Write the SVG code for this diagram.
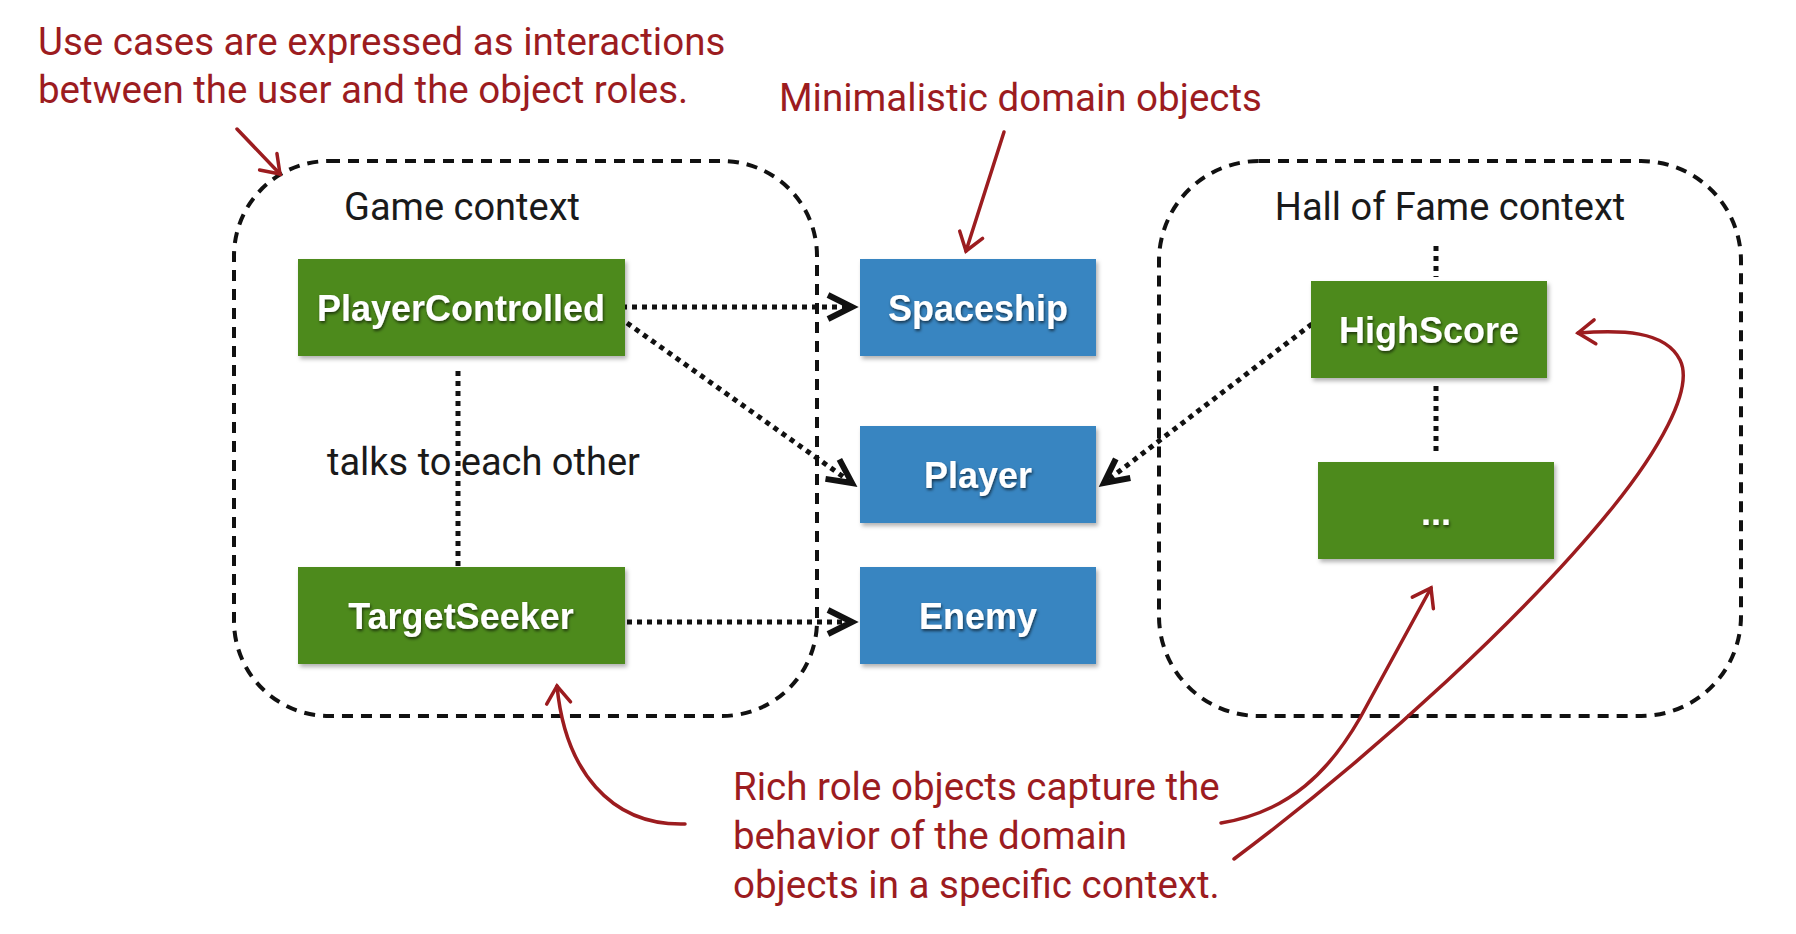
<svg xmlns="http://www.w3.org/2000/svg" width="1796" height="934" viewBox="0 0 1796 934">
<defs>
<style>
.note{font-family:Roboto,"Liberation Sans",sans-serif;font-size:38.5px;fill:#9c1c1f}
.ctx{font-family:Roboto,"Liberation Sans",sans-serif;font-size:38px;fill:#1a1a1a}
.lbl{font-family:"Liberation Sans",Arial,sans-serif;font-weight:bold;font-size:36px;fill:#ffffff;text-anchor:middle}
.green{fill:#4e8a1f}
.blue{fill:#3985c1}
.box{stroke:none}
.frame{fill:none;stroke:#111;stroke-width:4;stroke-dasharray:11 8}
.dot{fill:none;stroke:#111;stroke-width:5;stroke-dasharray:5 5}
.red{fill:none;stroke:#9c1c1f;stroke-width:3.5;stroke-linecap:round}
</style>
<filter id="sh" x="-10%" y="-10%" width="130%" height="140%">
<feDropShadow dx="2" dy="3" stdDeviation="2" flood-color="#000" flood-opacity="0.3"/>
</filter>
<filter id="tsh" x="-10%" y="-30%" width="120%" height="170%">
<feDropShadow dx="1" dy="2" stdDeviation="1.5" flood-color="#000" flood-opacity="0.6"/>
</filter>
<marker id="ah" markerUnits="userSpaceOnUse" viewBox="-32 -18 42 36" refX="0" refY="0" markerWidth="42" markerHeight="36" orient="auto">
<path d="M-24,-12 L0,0 L-24,12" fill="none" stroke="#111" stroke-width="6"/>
</marker>
<marker id="rh" markerUnits="userSpaceOnUse" viewBox="-24 -16 30 32" refX="0" refY="0" markerWidth="30" markerHeight="32" orient="auto">
<path d="M-17,-12 L0,0 L-17,12" fill="none" stroke="#9c1c1f" stroke-width="3.5" stroke-linecap="round"/>
</marker>
</defs>
<rect width="1796" height="934" fill="#ffffff"/>

<g id="annotations">
<text class="note" x="38" y="55">Use cases are expressed as interactions</text>
<text class="note" x="38" y="103">between the user and the object roles.</text>
<text class="note" x="779" y="111">Minimalistic domain objects</text>
<text class="note" x="733" y="800">Rich role objects capture the</text>
<text class="note" x="733" y="849">behavior of the domain</text>
<text class="note" x="733" y="898">objects in a specific context.</text>
</g>

<g id="game-context">
<rect class="frame" x="234" y="161" width="583" height="555" rx="95" ry="95"/>
<text class="ctx" x="462" y="220" text-anchor="middle">Game context</text>
</g>

<g id="hall-of-fame-context">
<rect class="frame" x="1159" y="161" width="582" height="555" rx="100" ry="100"/>
<text class="ctx" x="1450" y="220" text-anchor="middle">Hall of Fame context</text>
</g>

<g id="connectors">
<line class="dot" x1="458" y1="371" x2="458" y2="572"/>
<line class="dot" x1="1436" y1="246" x2="1436" y2="277"/>
<line class="dot" x1="1436" y1="386" x2="1436" y2="453"/>
<line class="dot" x1="622" y1="307" x2="852" y2="307" marker-end="url(#ah)"/>
<line class="dot" x1="627" y1="323" x2="852" y2="483" marker-end="url(#ah)"/>
<line class="dot" x1="627" y1="622" x2="852" y2="622" marker-end="url(#ah)"/>
<line class="dot" x1="1312" y1="324" x2="1104" y2="483" marker-end="url(#ah)"/>
<path class="red" d="M237,129 L280,174" marker-end="url(#rh)"/>
<path class="red" d="M1004,132 L966,251" marker-end="url(#rh)"/>
<path class="red" d="M685,824 C610,826 565,770 557,686" marker-end="url(#rh)"/>
<path class="red" d="M1221,823 C1290,812 1330,770 1360,718 L1431,588" marker-end="url(#rh)"/>
<path class="red" d="M1234,859 C1380,750 1530,610 1613,507 C1655,455 1695,390 1680,360 C1665,330 1620,330 1578,333" marker-end="url(#rh)"/>
</g>

<g id="PlayerControlled">
<rect class="box green" x="298" y="259" width="327" height="97" filter="url(#sh)"/>
<text class="lbl" x="461" y="321" filter="url(#tsh)">PlayerControlled</text>
</g>
<g id="TargetSeeker">
<rect class="box green" x="298" y="567" width="327" height="97" filter="url(#sh)"/>
<text class="lbl" x="461" y="629" filter="url(#tsh)">TargetSeeker</text>
</g>
<g id="Spaceship">
<rect class="box blue" x="860" y="259" width="236" height="97" filter="url(#sh)"/>
<text class="lbl" x="978" y="321" filter="url(#tsh)">Spaceship</text>
</g>
<g id="Player">
<rect class="box blue" x="860" y="426" width="236" height="97" filter="url(#sh)"/>
<text class="lbl" x="978" y="488" filter="url(#tsh)">Player</text>
</g>
<g id="Enemy">
<rect class="box blue" x="860" y="567" width="236" height="97" filter="url(#sh)"/>
<text class="lbl" x="978" y="629" filter="url(#tsh)">Enemy</text>
</g>
<g id="HighScore">
<rect class="box green" x="1311" y="281" width="236" height="97" filter="url(#sh)"/>
<text class="lbl" x="1429" y="343" filter="url(#tsh)">HighScore</text>
</g>
<g id="More">
<rect class="box green" x="1318" y="462" width="236" height="97" filter="url(#sh)"/>
<text class="lbl" x="1436" y="525" filter="url(#tsh)">...</text>
</g>

<g id="talks-label">
<text class="ctx" x="327" y="475">talks to each other</text>
</g>
</svg>
